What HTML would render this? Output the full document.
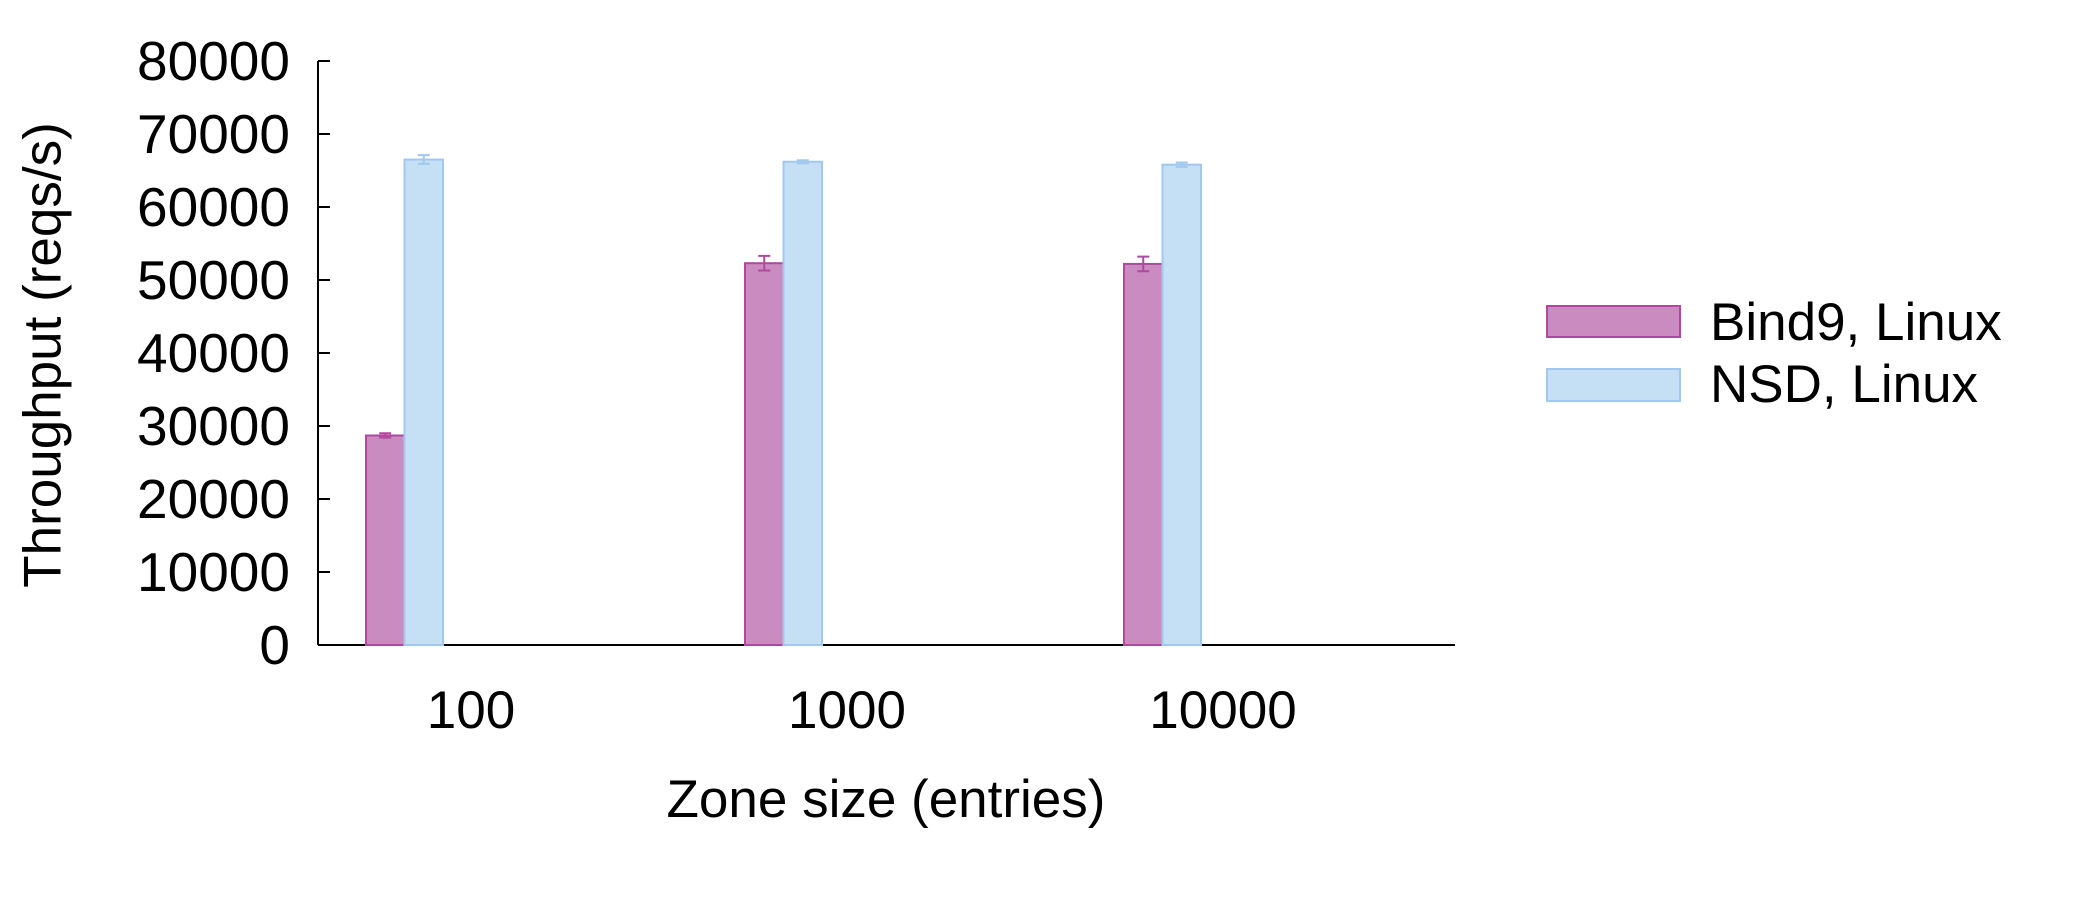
<!DOCTYPE html>
<html><head><meta charset="utf-8"><style>
body{margin:0;background:#fff;}
svg{display:block;font-family:"Liberation Sans",Arial,sans-serif;}
</style></head><body>
<svg id="chart" width="2100" height="900" viewBox="0 0 2100 900">
<g id="axes"></g><g id="bars"></g>
<text x="43" y="355" transform="rotate(-90 43 355)" text-anchor="middle" dominant-baseline="central" font-size="53">Throughput (reqs/s)</text>
<text x="886" y="817" text-anchor="middle" font-size="53">Zone size (entries)</text>
<g>
<rect x="1547" y="306" width="133" height="31" fill="#c98bc0" stroke="#b0489e" stroke-width="2"/>
<text x="1710" y="340" font-size="53">Bind9, Linux</text>
<rect x="1547" y="369" width="133" height="32" fill="#c5dff5" stroke="#a3c8ee" stroke-width="2"/>
<text x="1710" y="402" font-size="53">NSD, Linux</text>
</g>
</svg>
<script>
const categories = ["100","1000","10000"];
const bindValues = [28700, 52300, 52200];
const bindErrors = [300, 1000, 1000];
const nsdValues = [66500, 66200, 65800];
const nsdErrors = [600, 200, 300];
const yTicks = [0,10000,20000,30000,40000,50000,60000,70000,80000];

const NS="http://www.w3.org/2000/svg";
const x0=318,x1=1455,yTop=61,yBot=645,yMax=80000;
const band=(x1-x0)/categories.length;
function y(v){return yBot-(v/yMax)*(yBot-yTop);}
function mk(tag,attrs,parent){const e=document.createElementNS(NS,tag);for(const k in attrs)e.setAttribute(k,attrs[k]);parent.appendChild(e);return e;}
const axes=document.getElementById('axes'),bars=document.getElementById('bars');
let e=mk('line',{x1:x0,y1:yTop,x2:x0,y2:yBot,stroke:'#000','stroke-width':2},axes);


e=mk('line',{x1:x0,y1:yBot,x2:x1,y2:yBot,stroke:'#000','stroke-width':2},axes);


yTicks.forEach(t=>{
  const tk=mk('line',{x1:x0,y1:y(t),x2:x0+12,y2:y(t),stroke:'#000','stroke-width':2},axes);
  
  
  const lb=mk('text',{x:290,y:y(t)+19,'text-anchor':'end','font-size':55},axes);
  lb.textContent=t;
  
  
});
const bw=38.5;
categories.forEach((c,i)=>{
  const bs=x0+i*band+48;
  const lb=mk('text',{x:x0+i*band+153-i*3,y:728,'text-anchor':'middle','font-size':53},axes);
  lb.textContent=c;
  
  
  [[bindValues,bindErrors,'#c98bc0','#b0489e','bind9'],[nsdValues,nsdErrors,'#c5dff5','#a3c8ee','nsd']].forEach((s,j)=>{
    const v=s[0][i],er=s[1][i],bx=bs+j*bw;
    const r=mk('rect',{x:bx,y:y(v),width:bw,height:yBot-y(v),fill:s[2],stroke:s[3],'stroke-width':2},bars);
    
    
    const cx=bx+bw/2;
    const eb=mk('path',{d:`M${cx} ${y(v+er)}V${y(v-er)}M${cx-6} ${y(v+er)}H${cx+6}M${cx-6} ${y(v-er)}H${cx+6}`,stroke:s[3],'stroke-width':2,fill:'none'},bars);
    
    
  });
});
</script>
</body></html>
